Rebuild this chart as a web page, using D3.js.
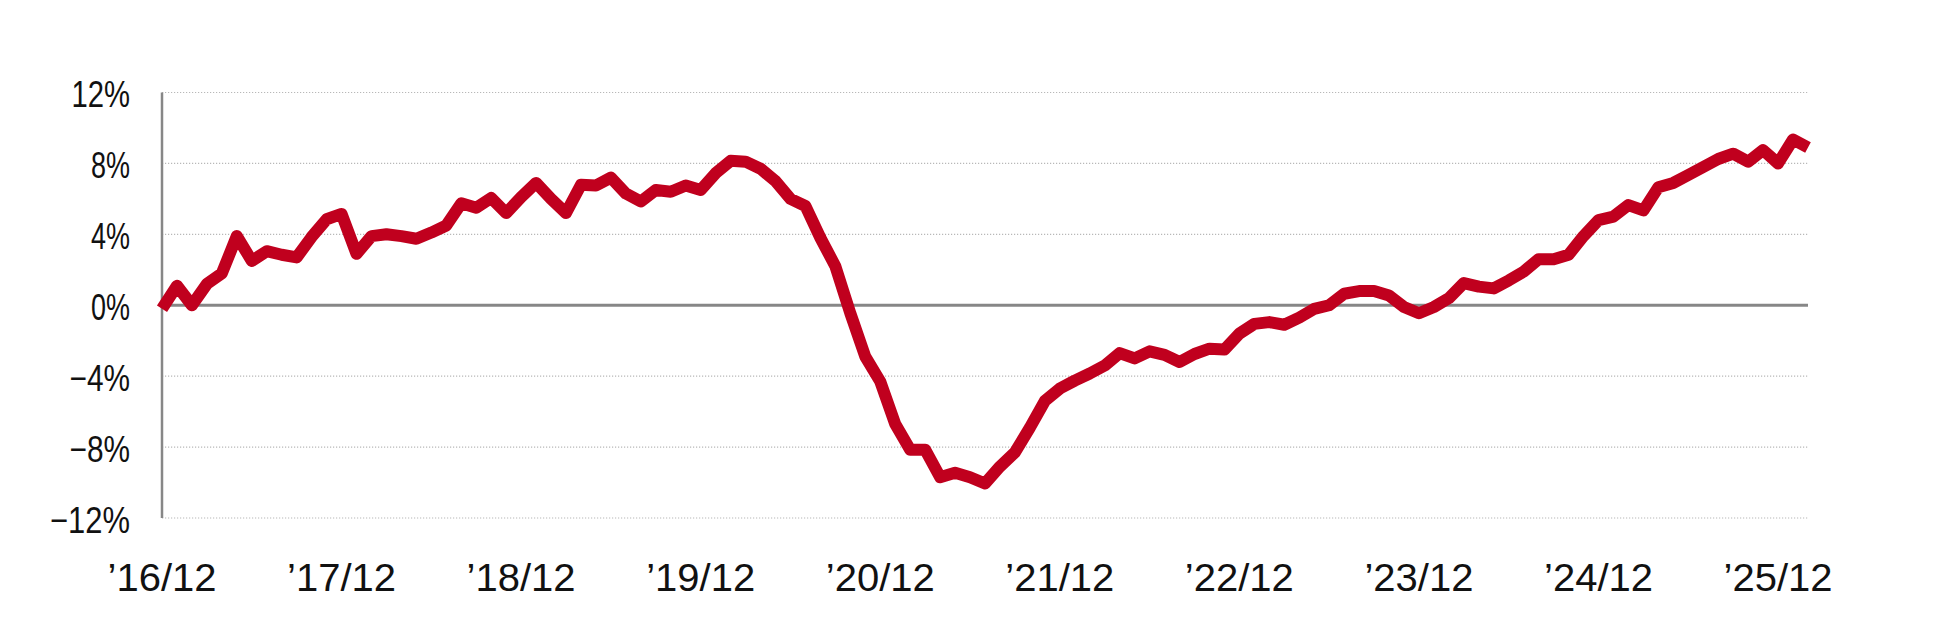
<!DOCTYPE html>
<html>
<head>
<meta charset="utf-8">
<script src="https://cdn.jsdelivr.net/npm/d3@7"></script>
<style>
  html, body { margin: 0; padding: 0; background: #ffffff; }
  svg { display: block; }
</style>
</head>
<body>
<div id="chart"></div>
<script>
(function () {
// ---------- data ----------
const startMonth = "2016/12";
const monthCount = 111; // 2016/12 .. 2026/02
const values = [
  -0.2, 1.1, 0.0, 1.2, 1.8, 3.9, 2.5, 3.05, 2.85, 2.7,
  3.85, 4.85, 5.15, 2.9, 3.9, 4.0, 3.9, 3.75, 4.1, 4.5,
  5.75, 5.5, 6.05, 5.2, 6.1, 6.9, 6.0, 5.2, 6.8, 6.75,
  7.2, 6.3, 5.85, 6.5, 6.4, 6.75, 6.5, 7.45, 8.15, 8.1,
  7.7, 7.0, 6.0, 5.6, 3.8, 2.2, -0.45, -2.9, -4.3, -6.7,
  -8.15, -8.15, -9.7, -9.45, -9.7, -10.05, -9.1, -8.3, -6.9, -5.4,
  -4.7, -4.25, -3.85, -3.4, -2.7, -3.0, -2.6, -2.8, -3.2, -2.75,
  -2.45, -2.5, -1.6, -1.05, -0.95, -1.1, -0.7, -0.2, 0.0, 0.65,
  0.8, 0.8, 0.55, -0.1, -0.45, -0.1, 0.4, 1.25, 1.05, 0.95,
  1.4, 1.9, 2.6, 2.6, 2.85, 3.9, 4.8, 5.0, 5.65, 5.35,
  6.65, 6.9, 7.35, 7.8, 8.25, 8.55, 8.1, 8.75, 8.0, 9.35,
  8.9
];
const yTicks = [12, 8, 4, 0, -4, -8, -12];
const yTickLabels = ["12%", "8%", "4%", "0%", "\u22124%", "\u22128%", "\u221212%"];
const xTickMonths = ["2016/12", "2017/12", "2018/12", "2019/12", "2020/12",
                     "2021/12", "2022/12", "2023/12", "2024/12", "2025/12"];
const xTickLabels = ["\u201916/12", "\u201917/12", "\u201918/12", "\u201919/12", "\u201920/12",
                     "\u201921/12", "\u201922/12", "\u201923/12", "\u201924/12", "\u201925/12"];

// categories (month labels)
const parse = d3.timeParse("%Y/%m");
const fmt = d3.timeFormat("%Y/%m");
const months = d3.range(monthCount).map(i => fmt(d3.timeMonth.offset(parse(startMonth), i)));
const data = months.map((m, i) => ({ m, v: values[i] }));

// ---------- layout ----------
const W = 1950, H = 638;
const mLeft = 162, mRight = 1808, mTop = 92.5, mBottom = 518;

const svg = d3.select("#chart").append("svg")
  .attr("width", W).attr("height", H);

const x = d3.scalePoint().domain(months).range([mLeft, mRight]);
const y = d3.scaleLinear().domain([-12, 12]).range([mBottom, mTop]);

const FONT = "'Liberation Sans', Arial, sans-serif";

// gridlines (dotted)
svg.append("g").selectAll("line")
  .data(yTicks.filter(t => t !== 0))
  .join("line")
  .attr("x1", mLeft).attr("x2", mRight)
  .attr("y1", d => y(d)).attr("y2", d => y(d))
  .attr("stroke", "#b8b8b8")
  .attr("stroke-width", 1.2)
  .attr("stroke-dasharray", "1.2,1.8");

// y tick labels (narrow gothic look: compress glyphs)
svg.append("g").selectAll("text")
  .data(yTicks)
  .join("text")
  .attr("x", 130)
  .attr("y", d => y(d) + 1.5)
  .attr("dy", "0.36em")
  .attr("text-anchor", "end")
  .attr("font-family", FONT)
  .attr("font-size", 37)
  .attr("fill", "#111")
  .attr("textLength", (d, i) => 19.5 * yTickLabels[i].length + (d < 0 ? 2 : 0))
  .attr("lengthAdjust", "spacingAndGlyphs")
  .text((d, i) => yTickLabels[i]);

// x tick labels
svg.append("g").selectAll("text")
  .data(xTickMonths)
  .join("text")
  .attr("x", d => x(d))
  .attr("y", 591)
  .attr("text-anchor", "middle")
  .attr("font-family", FONT)
  .attr("font-size", 39)
  .attr("fill", "#111")
  .attr("textLength", 109)
  .attr("lengthAdjust", "spacingAndGlyphs")
  .text((d, i) => xTickLabels[i]);

// zero line
svg.append("line")
  .attr("x1", mLeft).attr("x2", mRight)
  .attr("y1", y(0)).attr("y2", y(0))
  .attr("stroke", "#878787")
  .attr("stroke-width", 3);

// y axis line
svg.append("line")
  .attr("x1", mLeft).attr("x2", mLeft)
  .attr("y1", y(12)).attr("y2", y(-12))
  .attr("stroke", "#878787")
  .attr("stroke-width", 2.5);

// series line
const line = d3.line().x(d => x(d.m)).y(d => y(d.v));
svg.append("path")
  .datum(data)
  .attr("d", line)
  .attr("fill", "none")
  .attr("stroke", "#c0001e")
  .attr("stroke-width", 12)
  .attr("stroke-linejoin", "round")
  .attr("stroke-linecap", "butt");
})();
</script>
</body>
</html>
